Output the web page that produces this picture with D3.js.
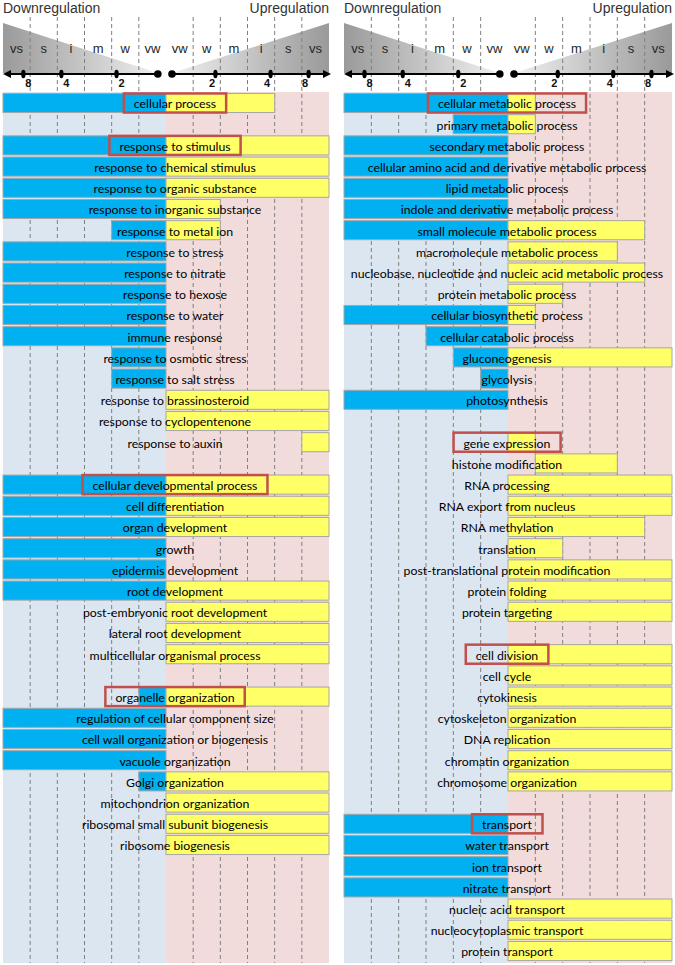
<!DOCTYPE html>
<html><head><meta charset="utf-8">
<script src="https://cdn.jsdelivr.net/npm/d3@7"></script>
<style>body{margin:0;background:#fff}</style>
</head><body><svg id="c" width="675" height="965"></svg>
<script>
// ---- data ----
const levelLabelsDown = ["vs","s","i","m","w","vw"];
const levelLabelsUp = ["vw","w","m","i","s","vs"];
const foldTickLabels = ["2","4","8"];
const foldTickLevels = [1.82, 3.85, 5.25];

const leftTerms = ["cellular process", null,
  "response to stimulus","response to chemical stimulus","response to organic substance",
  "response to inorganic substance","response to metal ion","response to stress","response to nitrate",
  "response to hexose","response to water","immune response","response to osmotic stress",
  "response to salt stress","response to brassinosteroid","response to cyclopentenone","response to auxin", null,
  "cellular developmental process","cell differentiation","organ development","growth",
  "epidermis development","root development","post-embryonic root development","lateral root development",
  "multicellular organismal process", null,
  "organelle organization","regulation of cellular component size","cell wall organization or biogenesis",
  "vacuole organization","Golgi organization","mitochondrion organization",
  "ribosomal small subunit biogenesis","ribosome biogenesis"];
const leftDown    = [6,null, 6,6,6,6,2,6,6,6,6,6,2,2,0,0,0,null, 6,6,6,6,6,6,0,0,0,null, 1,6,6,6,1,0,0,0];
const leftUp      = [4,null, 6,6,6,2,2,0,0,0,0,0,0,0,6,6,6,null, 6,6,6,0,0,6,6,6,6,null, 6,0,0,0,6,6,6,6];
const leftUpStart = [0,null, 0,0,0,0,0,0,0,0,0,0,0,0,0,0,5,null, 0,0,0,0,0,0,0,0,0,null, 0,0,0,0,0,0,0,0];
const leftHighlights = ["cellular process","response to stimulus","cellular developmental process","organelle organization"];

const rightTerms = ["cellular metabolic process","primary metabolic process","secondary metabolic process",
  "cellular amino acid and derivative metabolic process","lipid metabolic process",
  "indole and derivative metabolic process","small molecule metabolic process","macromolecule metabolic process",
  "nucleobase, nucleotide and nucleic acid metabolic process","protein metabolic process",
  "cellular biosynthetic process","cellular catabolic process","gluconeogenesis","glycolysis","photosynthesis", null,
  "gene expression","histone modification","RNA processing","RNA export from nucleus","RNA methylation",
  "translation","post-translational protein modification","protein folding","protein targeting", null,
  "cell division","cell cycle","cytokinesis","cytoskeleton organization","DNA replication",
  "chromatin organization","chromosome organization", null,
  "transport","water transport","ion transport","nitrate transport","nucleic acid transport",
  "nucleocytoplasmic transport","protein transport"];
const rightDown    = [6,2,6,6,6,6,6,0,0,0,6,3,2,1,6,null, 0,0,0,0,0,0,0,0,0,null, 0,0,0,0,0,0,0,null, 6,6,6,6,0,0,0];
const rightUp      = [1,1,0,0,0,0,5,4,5,2,1,0,6,0,0,null, 1,4,6,6,5,2,6,6,6,null, 6,6,6,6,6,6,6,null, 0,0,0,0,6,6,6];
const rightUpStart = [0,0,0,0,0,0,0,0,0,0,0,0,0,0,0,null, 0,1,0,0,0,0,0,0,0,null, 0,0,0,0,0,0,0,null, 0,0,0,0,0,0,0];
const rightHighlights = ["cellular metabolic process","gene expression","cell division","transport"];

// ---- layout ----
const svg = d3.select("#c");
const defs = svg.append("defs");
const gL = defs.append("linearGradient").attr("id","gradDown").attr("x1",0).attr("x2",1).attr("y1",0).attr("y2",0);
gL.append("stop").attr("offset",0).attr("stop-color","#9a9a9a");
gL.append("stop").attr("offset",1).attr("stop-color","#efefef");
const gR = defs.append("linearGradient").attr("id","gradUp").attr("x1",0).attr("x2",1).attr("y1",0).attr("y2",0);
gR.append("stop").attr("offset",0).attr("stop-color","#efefef");
gR.append("stop").attr("offset",1).attr("stop-color","#9a9a9a");

const step = 21.2, firstCenter = 103;
const panels = [
  {terms:leftTerms, down:leftDown, up:leftUp, upStart:leftUpStart, hl:leftHighlights, x0:3, x1:329, shift:9},
  {terms:rightTerms, down:rightDown, up:rightUp, upStart:rightUpStart, hl:rightHighlights, x0:344, x1:672, shift:-1}
];
const bgTop = 92, bgBottom = 963, axisY = 74;
const arial = "'Liberation Sans', Arial, sans-serif";

panels.forEach(p => {
  const x = d3.scaleLinear().domain([-6,6]).range([p.x0, p.x1]);
  const n = p.terms.length;
  const y = d3.scaleBand().domain(d3.range(n))
    .range([firstCenter - step/2, firstCenter - step/2 + step*n])
    .paddingInner(0.1).paddingOuter(0.05);
  const g = svg.append("g");

  // backgrounds
  g.append("rect").attr("x",x(-6)).attr("y",bgTop).attr("width",x(0)-x(-6)).attr("height",bgBottom-bgTop).attr("fill","#dce6f1");
  g.append("rect").attr("x",x(0)).attr("y",bgTop).attr("width",x(6)-x(0)).attr("height",bgBottom-bgTop).attr("fill","#f2dcdb");

  // titles
  g.append("text").attr("x",x(-6)).attr("y",13).attr("font-family",arial).attr("font-size",14).attr("fill","#333").text("Downregulation");
  g.append("text").attr("x",x(6)).attr("y",13).attr("text-anchor","end").attr("font-family",arial).attr("font-size",14).attr("fill","#333").text("Upregulation");

  // triangles
  g.append("path").attr("d",`M${x(-6)},23L${x(-0.3)},${axisY-1}L${x(-6)},${axisY-1}Z`).attr("fill","url(#gradDown)");
  g.append("path").attr("d",`M${x(6)},23L${x(0.22)},${axisY-1}L${x(6)},${axisY-1}Z`).attr("fill","url(#gradUp)");

  // grid lines
  const gridLevels = [-5,-4,-3,-2,-1,1,2,3,4,5];
  g.selectAll("line.grid").data(gridLevels).join("line").attr("class","grid")
    .attr("x1",d=>x(d)).attr("x2",d=>x(d)).attr("y1",17).attr("y2",bgBottom)
    .attr("stroke","#7f7f7f").attr("stroke-width",1).attr("stroke-dasharray","4,3");

  // level labels
  g.selectAll("text.lvD").data(levelLabelsDown).join("text").attr("class","lvD")
    .attr("x",(d,i)=>x(-6+i+0.5)).attr("y",53).attr("text-anchor","middle")
    .attr("font-family",arial).attr("font-size",13).attr("fill","#262626").text(d=>d);
  g.selectAll("text.lvU").data(levelLabelsUp).join("text").attr("class","lvU")
    .attr("x",(d,i)=>x(i+0.5)).attr("y",53).attr("text-anchor","middle")
    .attr("font-family",arial).attr("font-size",13).attr("fill","#262626").text(d=>d);

  // axis
  g.append("line").attr("x1",x(-6)+6).attr("x2",x(-0.3)).attr("y1",axisY).attr("y2",axisY).attr("stroke","#000").attr("stroke-width",2);
  g.append("line").attr("x1",x(0.22)).attr("x2",x(6)-4).attr("y1",axisY).attr("y2",axisY).attr("stroke","#000").attr("stroke-width",2);
  g.append("path").attr("d",`M${x(-6)},${axisY}l8,-4l0,8Z`).attr("fill","#000");
  g.append("path").attr("d",`M${x(6)+2},${axisY}l-8,-4l0,8Z`).attr("fill","#000");
  g.append("circle").attr("cx",x(-0.3)).attr("cy",axisY).attr("r",3.8).attr("fill","#000");
  g.append("circle").attr("cx",x(0.22)).attr("cy",axisY).attr("r",3.8).attr("fill","#000");
  [-1,1].forEach(s => {
    g.selectAll(null).data(foldTickLevels).join("ellipse")
      .attr("cx",d=>x(s*d)).attr("cy",axisY).attr("rx",2.2).attr("ry",4.2).attr("fill","#000");
    g.selectAll(null).data(foldTickLabels).join("text")
      .attr("x",(d,i)=>x(s*foldTickLevels[i]) + (s<0?5:-3.5)).attr("y",87).attr("text-anchor","middle")
      .attr("font-family",arial).attr("font-size",11).attr("font-weight","bold").attr("fill","#111").text(d=>d);
  });

  // bars
  const rows = p.terms.map((t,i)=>({t, i, down:p.down[i], up:p.up[i], us:p.upStart[i]})).filter(r=>r.t!==null);
  g.selectAll("rect.down").data(rows.filter(r=>r.down>0)).join("rect").attr("class","down")
    .attr("x",r=>x(-r.down)).attr("y",r=>y(r.i)).attr("width",r=>x(0)-x(-r.down)).attr("height",y.bandwidth())
    .attr("fill","#00b0f0").attr("stroke","#a6a6a6").attr("stroke-width",1);
  g.selectAll("rect.up").data(rows.filter(r=>r.up>0)).join("rect").attr("class","up")
    .attr("x",r=>x(r.us)).attr("y",r=>y(r.i)).attr("width",r=>x(r.up)-x(r.us)).attr("height",y.bandwidth())
    .attr("fill","#ffff66").attr("stroke","#a6a6a6").attr("stroke-width",1);

  // labels
  const labels = g.selectAll("text.term").data(rows).join("text").attr("class","term")
    .attr("x",x(0)+p.shift).attr("y",r=>y(r.i)+y.bandwidth()/2+1).attr("dy","0.35em")
    .attr("text-anchor","middle").attr("font-family","Lato, 'Open Sans', sans-serif").attr("font-size",12.3)
    .attr("fill","#000").text(r=>r.t);

  // highlight boxes
  labels.filter(r=>p.hl.includes(r.t)).each(function(r){
    const bb = this.getBBox();
    g.append("rect").attr("x",bb.x-10).attr("y",y(r.i)).attr("width",bb.width+20).attr("height",y.bandwidth())
      .attr("fill","none").attr("stroke","#c0504d").attr("stroke-width",2.5);
  });
});
</script>
</body></html>
